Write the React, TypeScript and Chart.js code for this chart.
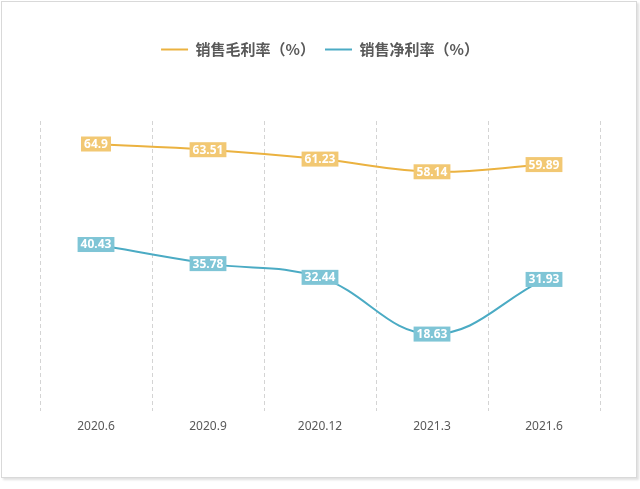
import { useEffect, useRef } from 'react';
import { Chart, registerables } from 'chart.js';

Chart.register(...registerables);

const periods = ['2020.6', '2020.9', '2020.12', '2021.3', '2021.6'];
const grossMargin = [64.9, 63.51, 61.23, 58.14, 59.89];
const netMargin = [40.43, 35.78, 32.44, 18.63, 31.93];

const GOLD = '#EBB240';
const GOLD_BOX = '#F2C873';
const TEAL = '#4BABC4';
const TEAL_BOX = '#7FC5D6';

// push the plot area down below the legend
const legendGap = {
  id: 'legendGap',
  beforeInit(chart: any) {
    const legend = chart.legend;
    if (!legend) return;
    const fit = legend.fit;
    legend.fit = function () {
      fit.call(this);
      this.height += 54;
    };
  },
};

// boxed value labels sitting on each point
const valueBoxes = {
  id: 'valueBoxes',
  afterDatasetsDraw(chart: any) {
    const ctx = chart.ctx;
    const boxColors = [GOLD_BOX, TEAL_BOX];
    ctx.save();
    ctx.font = 'bold 12px "Noto Sans", "Open Sans", sans-serif';
    ctx.textAlign = 'center';
    ctx.textBaseline = 'middle';
    chart.data.datasets.forEach((ds: any, i: number) => {
      const meta = chart.getDatasetMeta(i);
      meta.data.forEach((pt: any, j: number) => {
        const text = String(ds.data[j]);
        const w = ctx.measureText(text).width + 6;
        const h = 15;
        ctx.fillStyle = boxColors[i];
        ctx.fillRect(pt.x - w / 2, pt.y - h / 2, w, h);
        ctx.fillStyle = '#ffffff';
        ctx.fillText(text, pt.x, pt.y + 0.5);
      });
    });
    ctx.restore();
  },
};

const App = () => {
  const canvasRef = useRef<HTMLCanvasElement>(null);

  useEffect(() => {
    document.body.style.margin = '0';
    if (!canvasRef.current) return;

    const chart = new Chart(canvasRef.current, {
      type: 'line',
      data: {
        labels: periods,
        datasets: [
          {
            label: '销售毛利率（%）',
            data: grossMargin,
            borderColor: GOLD,
            backgroundColor: GOLD,
            borderWidth: 2,
            pointRadius: 0,
            tension: 0.4,
          },
          {
            label: '销售净利率（%）',
            data: netMargin,
            borderColor: TEAL,
            backgroundColor: TEAL,
            borderWidth: 2,
            pointRadius: 0,
            tension: 0.4,
          },
        ],
      },
      options: {
        responsive: false,
        animation: false,
        layout: { padding: { top: 32, left: 40, right: 40, bottom: 46 } },
        plugins: {
          legend: {
            position: 'top',
            labels: {
              usePointStyle: true,
              pointStyle: 'line',
              pointStyleWidth: 27,
              boxHeight: 16,
              padding: 10,
              color: '#595959',
              font: { family: '"Noto Sans CJK SC", sans-serif', size: 15, weight: 'bold' },
            },
          },
          tooltip: { enabled: false },
        },
        scales: {
          x: {
            offset: true,
            grid: { offset: true, color: '#d4d4d4', drawTicks: false },
            border: { display: false, dash: [4, 3] },
            ticks: {
              padding: 9,
              color: '#595959',
              font: { family: '"Noto Sans", sans-serif', size: 12 },
            },
          },
          y: {
            display: false,
            min: 0,
            max: 70.5,
          },
        },
      },
      plugins: [legendGap, valueBoxes],
    });

    return () => chart.destroy();
  }, []);

  return (
    <div style={{ position: 'relative', width: 640, height: 489, background: '#ffffff' }}>
      <div
        style={{
          position: 'absolute',
          left: 1,
          top: 1,
          width: 634,
          height: 475,
          border: '1px solid #d9d9d9',
          boxShadow: '2px 2px 2px rgba(0,0,0,0.12)',
          background: '#ffffff',
        }}
      />
      <canvas ref={canvasRef} width={640} height={489} style={{ position: 'absolute', left: 0, top: 0 }} />
    </div>
  );
};

export default App;
